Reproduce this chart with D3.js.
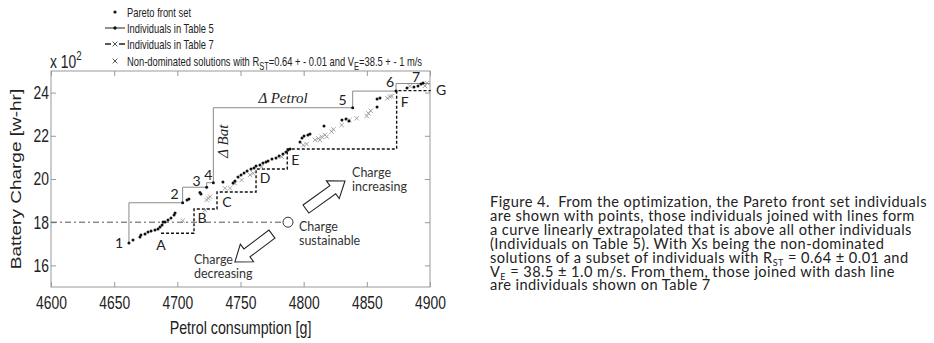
<!DOCTYPE html>
<html>
<head>
<meta charset="utf-8">
<script src="https://cdn.jsdelivr.net/npm/d3@7"></script>
<style>
body { margin: 0; background: #fff; }
.narrow { font-family: "Liberation Sans", Arial, sans-serif; }
.calib { font-family: Lato, "Open Sans", sans-serif; }
</style>
</head>
<body>
<div class="chart"></div>
<script>
// Pareto front set (black dots)
var paretoX = [4661.7,4664.9,4670.4,4671.2,4674.4,4676.8,4679.2,4682.3,4684.7,4686.3,4687.9,4688.7,4690.2,4692.6,4695.0,4697.4,4698.2,4704.2,4707.7,4709.2,4717.9,4718.7,4723.2,4728.5,4736.1,4744.1,4745.6,4748.0,4750.4,4752.8,4755.2,4758.3,4760.7,4762.3,4765.4,4767.8,4770.2,4771.8,4774.9,4778.1,4780.5,4783.6,4786.0,4787.6,4789.2,4797.1,4798.7,4800.3,4803.4,4805.0,4816.1,4830.3,4833.5,4835.9,4838.8,4858.1,4858.1,4860.4,4873.1,4881.8,4887.3,4890.5,4892.9,4894.5];
var paretoY = [17.04,17.18,17.31,17.41,17.45,17.55,17.59,17.64,17.69,17.78,17.87,18.01,18.01,18.10,18.19,18.33,18.43,18.90,19.03,19.07,19.37,19.31,19.62,19.83,19.86,19.81,19.91,20.09,20.19,20.28,20.37,20.46,20.51,20.60,20.65,20.74,20.79,20.83,20.93,20.97,21.06,21.16,21.25,21.34,21.39,21.71,21.90,21.99,22.04,22.08,22.45,22.73,22.78,22.69,23.30,23.33,23.70,23.75,24.07,24.21,24.26,24.31,24.40,24.44];

// non-dominated solutions (grey crosses)
var xsX = [4704.2,4721.9,4723.2,4724.5,4725.9,4737.7,4741.7,4745.6,4750.9,4757.5,4760.1,4766.8,4782.6,4799.7,4802.4,4809.0,4811.6,4812.9,4814.3,4816.9,4818.2,4822.2,4823.5,4830.1,4836.1,4842.0,4849.9,4851.2,4853.1,4866.2,4868.3,4869.7,4884.0,4896.0,4897.6];
var xsY = [18.07,18.56,19.03,19.11,19.18,19.57,19.57,19.80,19.95,20.19,20.26,20.57,21.03,21.57,21.62,21.81,21.88,21.81,21.96,22.04,21.96,22.19,22.30,22.50,22.73,22.81,22.92,23.04,23.16,23.74,23.81,23.84,24.30,24.31,24.44];

// Individuals in Table 5 (solid staircase)
var table5Labels = ["1","2","3","4","5","6","7"];
var table5X = [4661.7,4704.2,4723.2,4728.5,4838.8,4873.1,4893.0];
var table5Y = [17.04,18.90,19.62,19.83,23.30,24.07,24.42];

// Individuals in Table 7 (dashed staircase)
var table7Labels = ["A","B","C","D","E","F","G"];
var table7X = [4687.1,4713.2,4731.4,4762.3,4787.0,4873.6,4900.0];
var table7Y = [17.49,18.61,19.40,20.46,21.39,24.09,24.12];

// charge sustainable point
var sustainX = 4787.6, sustainY = 18.0;

var xTicks = [4600,4650,4700,4750,4800,4850,4900];
var yTicks = [16,18,20,22,24];

var captionLines = [
    ["Figure 4.  From the optimization, the Pareto front set individuals"],
    ["are shown with points, those individuals joined with lines form"],
    ["a curve linearly extrapolated that is above all other individuals"],
    ["(Individuals on Table 5). With Xs being the non-dominated"],
    ["solutions of a subset of individuals with R", "ST", " = 0.64 \u00b1 0.01 and"],
    ["V", "E", " = 38.5 \u00b1 1.0 m/s. From them, those joined with dash line"],
    ["are individuals shown on Table 7"]
];

var width = 934, height = 343;
var margin = {left: 51, right: 504, top: 71, bottom: 56};
var plotW = width - margin.left - margin.right,
    plotH = height - margin.top - margin.bottom;

// the original figure is squeezed horizontally
var squeeze = 0.75;

var svg = d3.select("div.chart").append("svg")
    .attr("width", width)
    .attr("height", height);

var x = d3.scaleLinear().domain([4600, 4900]).range([margin.left, margin.left + plotW]);
var y = d3.scaleLinear().domain([15, 25]).range([margin.top + plotH, margin.top]);

var axisColor = "#9a9a9a";

// axes with inward ticks on all four sides
var gx = svg.append("g")
    .attr("transform", "translate(0," + (margin.top + plotH) + ")")
    .call(d3.axisBottom(x).tickValues(xTicks).tickFormat(d3.format("d")).tickSize(-5).tickSizeOuter(0).tickPadding(9));
var gxt = svg.append("g")
    .attr("transform", "translate(0," + margin.top + ")")
    .call(d3.axisTop(x).tickValues(xTicks).tickSize(-5).tickSizeOuter(0).tickFormat(""));
var gy = svg.append("g")
    .attr("transform", "translate(" + margin.left + ",0)")
    .call(d3.axisLeft(y).tickValues(yTicks).tickSize(-5).tickSizeOuter(0));
var gyr = svg.append("g")
    .attr("transform", "translate(" + (margin.left + plotW) + ",0)")
    .call(d3.axisRight(y).tickValues(yTicks).tickSize(-5).tickSizeOuter(0).tickFormat(""));

[gx, gxt, gy, gyr].forEach(function (g) {
    g.select(".domain").remove();
    g.selectAll(".tick line").attr("stroke", axisColor);
    g.attr("font-family", "'Liberation Sans', Arial, sans-serif");
});
gx.selectAll("text").attr("font-size", 18.5).attr("fill", "#222")
    .attr("transform", "scale(" + squeeze + ",1)");
gy.selectAll("text").attr("font-size", 18.5).attr("fill", "#222")
    .attr("x", -2 / squeeze)
    .attr("transform", "scale(" + squeeze + ",1)");

svg.append("rect")
    .attr("x", margin.left).attr("y", margin.top)
    .attr("width", plotW).attr("height", plotH)
    .attr("fill", "none")
    .attr("stroke", axisColor)
    .attr("stroke-width", 1);

// squeezed text helper
function narrowText(px, py, size, rot) {
    return svg.append("g")
        .attr("transform", "translate(" + px + "," + py + ") scale(" + squeeze + ",1)" + (rot ? " rotate(" + rot + ")" : ""))
        .append("text")
        .attr("class", "narrow")
        .attr("font-size", size)
        .attr("fill", "#222");
}

// axis titles
narrowText(x(4750), 334, 19).attr("text-anchor", "middle").text("Petrol consumption [g]");
narrowText(21, y(20), 19, -90).attr("text-anchor", "middle").text("Battery Charge [w-hr]");

var expo = narrowText(50, 68, 18.5);
expo.append("tspan").text("x 10");
expo.append("tspan").attr("dy", -8).attr("font-size", 13).text("2");

// reference line at sustainable charge
svg.append("line")
    .attr("x1", x(4600)).attr("x2", x(sustainX) - 5)
    .attr("y1", y(sustainY)).attr("y2", y(sustainY))
    .attr("stroke", "#555")
    .attr("stroke-width", 1)
    .attr("stroke-dasharray", "6,3,2,3");

svg.append("circle")
    .attr("cx", x(sustainX)).attr("cy", y(sustainY))
    .attr("r", 5)
    .attr("fill", "#fff")
    .attr("stroke", "#333")
    .attr("stroke-width", 1);

// Table 5 staircase, extrapolated to the right edge
var t5 = table5X.map(function (d, i) { return [d, table5Y[i]]; });
var t5line = t5.concat([[x.domain()[1], table5Y[table5Y.length - 1]]]);
svg.append("path")
    .attr("d", d3.line().curve(d3.curveStepBefore)
        .x(function (d) { return x(d[0]); })
        .y(function (d) { return y(d[1]); })(t5line))
    .attr("fill", "none")
    .attr("stroke", "#8a8a8a")
    .attr("stroke-width", 1);

// Table 7 staircase
var t7 = table7X.map(function (d, i) { return [d, table7Y[i]]; });
svg.append("path")
    .attr("d", d3.line().curve(d3.curveStepAfter)
        .x(function (d) { return x(d[0]); })
        .y(function (d) { return y(d[1]); })(t7))
    .attr("fill", "none")
    .attr("stroke", "#111")
    .attr("stroke-width", 1.4)
    .attr("stroke-dasharray", "3,2");

// grey crosses
svg.selectAll("path.xs")
    .data(xsX)
    .enter()
    .append("path")
    .attr("class", "xs")
    .attr("d", d3.symbol().type(d3.symbolX).size(14))
    .attr("transform", function (d, i) { return "translate(" + x(d) + "," + y(xsY[i]) + ")"; })
    .attr("stroke", "#9a9a9a")
    .attr("stroke-width", 0.9)
    .attr("fill", "none");

// pareto dots
svg.selectAll("circle.pareto")
    .data(paretoX)
    .enter()
    .append("circle")
    .attr("class", "pareto")
    .attr("cx", function (d) { return x(d); })
    .attr("cy", function (d, i) { return y(paretoY[i]); })
    .attr("r", 1.5)
    .attr("fill", "#111");

// labels on Table 5 / Table 7 points
var t5off = [[-10, 5], [-8, -4], [-10, -1], [-5, -3], [-10, -3], [-6, -4], [-5, -2]];
svg.selectAll("text.t5")
    .data(table5Labels)
    .enter()
    .append("text")
    .attr("class", "t5 calib")
    .attr("x", function (d, i) { return x(table5X[i]) + t5off[i][0]; })
    .attr("y", function (d, i) { return y(table5Y[i]) + t5off[i][1]; })
    .attr("text-anchor", "middle")
    .attr("font-size", 14)
    .attr("fill", "#222")
    .text(function (d) { return d; });

var t7off = [[0, 17], [8, 14], [10, 15], [9, 14], [8, 16], [8, 16], [11, 5]];
svg.selectAll("text.t7")
    .data(table7Labels)
    .enter()
    .append("text")
    .attr("class", "t7 calib")
    .attr("x", function (d, i) { return x(table7X[i]) + t7off[i][0]; })
    .attr("y", function (d, i) { return y(table7Y[i]) + t7off[i][1]; })
    .attr("text-anchor", "middle")
    .attr("font-size", 14)
    .attr("fill", "#222")
    .text(function (d) { return d; });

// delta annotations
svg.append("text")
    .attr("x", (x(table5X[3]) + x(table5X[4])) / 2)
    .attr("y", y(table5Y[4]) - 5)
    .attr("text-anchor", "middle")
    .attr("font-family", "'Liberation Serif', 'DejaVu Serif', serif")
    .attr("font-style", "italic")
    .attr("font-size", 15)
    .attr("fill", "#222")
    .text("\u0394 Petrol");

svg.append("text")
    .attr("transform", "translate(" + (x(table5X[3]) + 15) + "," + ((y(table5Y[3]) + y(table5Y[4])) / 2 - 4) + ") rotate(-90)")
    .attr("text-anchor", "middle")
    .attr("font-family", "'Liberation Serif', 'DejaVu Serif', serif")
    .attr("font-style", "italic")
    .attr("font-size", 15)
    .attr("fill", "#222")
    .text("\u0394 Bat");

// block arrows
function blockArrow(x0, y0, x1, y1) {
    var dx = x1 - x0, dy = y1 - y0;
    var L = Math.sqrt(dx * dx + dy * dy);
    var ang = Math.atan2(dy, dx) * 180 / Math.PI;
    var w = 5, h = 11, hl = 15;
    var pts = [[0, -w], [L - hl, -w], [L - hl, -h], [L, 0], [L - hl, h], [L - hl, w], [0, w]];
    svg.append("path")
        .attr("d", "M" + pts.join("L") + "Z")
        .attr("transform", "translate(" + x0 + "," + y0 + ") rotate(" + ang + ")")
        .attr("fill", "#fff")
        .attr("stroke", "#222")
        .attr("stroke-width", 1.1);
}
blockArrow(x(4801.8), y(18.61), x(4832.7), y(19.91));
blockArrow(x(4774.9), y(17.45), x(4745.6), y(16.16));

function note(xv, yv, lines) {
    var t = svg.append("text")
        .attr("class", "calib")
        .attr("x", x(xv)).attr("y", y(yv))
        .attr("font-size", 12.5)
        .attr("fill", "#333");
    lines.forEach(function (s, i) {
        t.append("tspan").attr("x", x(xv)).attr("dy", i ? 14 : 0).text(s);
    });
}
note(4838.3, 20.1, ["Charge", "increasing"]);
note(4796.3, 17.6, ["Charge", "sustainable"]);
note(4713.2, 16.07, ["Charge", "decreasing"]);

// legend
var leg = svg.append("g");
var legY = [12, 28, 44, 61];
var legText = ["Pareto front set", "Individuals in Table 5", "Individuals in Table 7"];
leg.append("circle").attr("cx", 115).attr("cy", legY[0]).attr("r", 1.6).attr("fill", "#111");
leg.append("line").attr("x1", 105).attr("x2", 125).attr("y1", legY[1]).attr("y2", legY[1])
    .attr("stroke", "#222").attr("stroke-width", 1);
leg.append("circle").attr("cx", 115).attr("cy", legY[1]).attr("r", 1.7).attr("fill", "#111");
leg.append("line").attr("x1", 105).attr("x2", 125).attr("y1", legY[2]).attr("y2", legY[2])
    .attr("stroke", "#222").attr("stroke-width", 1.6).attr("stroke-dasharray", "6,8");
leg.append("path").attr("d", d3.symbol().type(d3.symbolX).size(16))
    .attr("transform", "translate(115," + legY[2] + ")").attr("stroke", "#555").attr("fill", "none");
leg.append("path").attr("d", d3.symbol().type(d3.symbolX).size(16))
    .attr("transform", "translate(115," + legY[3] + ")").attr("stroke", "#555").attr("fill", "none");
legText.forEach(function (s, i) {
    narrowText(127, legY[i] + 4.5, 12.5).text(s);
});
var l4 = narrowText(127, legY[3] + 4.5, 12.5);
l4.append("tspan").text("Non-dominated solutions with R");
l4.append("tspan").attr("dy", 4).attr("font-size", 10).text("ST");
l4.append("tspan").attr("dy", -4).text("=0.64 + - 0.01 and V");
l4.append("tspan").attr("dy", 4).attr("font-size", 10).text("E");
l4.append("tspan").attr("dy", -4).text("=38.5 + - 1 m/s");

// caption, letter spacing set so the first line spans the same width as the original
var capFont = 14.6;
var cap = svg.append("g").attr("class", "calib");
var capRows = captionLines.map(function (parts, i) {
    var t = cap.append("text")
        .attr("x", 490)
        .attr("y", 207 + i * 13.9)
        .attr("font-size", capFont)
        .attr("fill", "#222")
        .style("white-space", "pre");
    parts.forEach(function (s, j) {
        if (j % 2 === 1) {
            t.append("tspan").attr("dy", 3).attr("font-size", 9).text(s);
        } else {
            t.append("tspan").attr("dy", j ? -3 : 0).text(s);
        }
    });
    return t;
});
var firstLen = capRows[0].node().getComputedTextLength();
var spacing = (437 - firstLen) / (captionLines[0][0].length - 1);
capRows.forEach(function (t) { t.attr("letter-spacing", spacing); });
</script>
</body>
</html>
